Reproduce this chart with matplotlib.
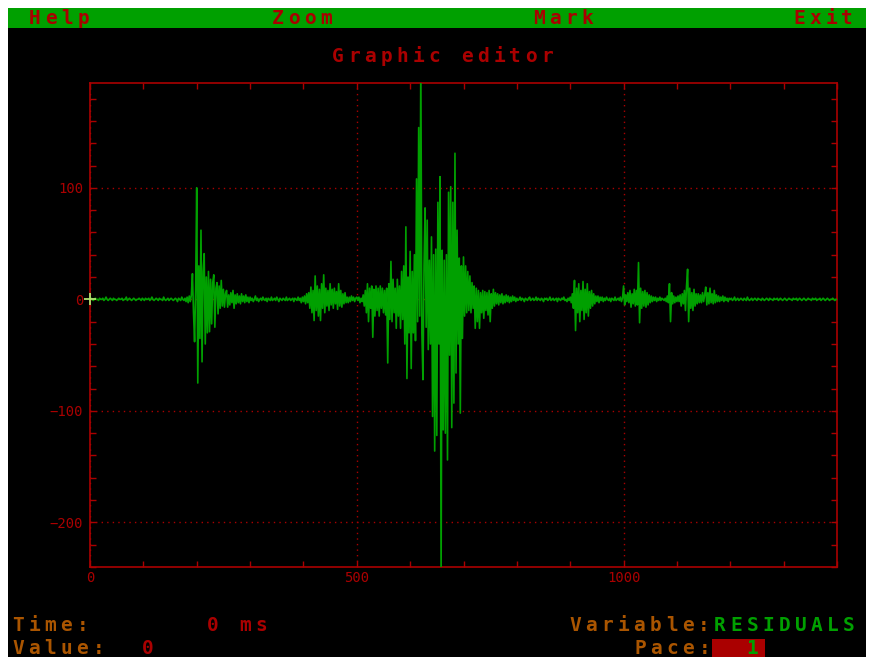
import matplotlib
matplotlib.use("Agg")
import matplotlib.pyplot as plt
import numpy as np
from matplotlib.patches import Rectangle
from matplotlib.ticker import MultipleLocator

# residual trace, one sample every 2 ms (0 .. 1400 ms), 10 samples per row
sample_ms = 2
residuals = [
    0, 1, 0, -1, 0, 1, 0, 0, -1, 1,
    0, 0, 1, -1, 0, 2, 0, -1, 0, 1,
    0, -1, 1, 0, 0, -1, 0, 1, 0, 0,
    1, -1, 0, 0, 2, -1, 0, 1, 0, -1,
    0, 1, 0, -1, 0, 0, 1, 0, -1, 1,
    0, -1, 1, 0, 0, 1, -1, 0, 2, 0,
    -1, 0, 1, 0, -1, 1, 0, 0, -1, 2,
    0, -1, 0, 1, -1, 0, 1, 0, -1, 0,
    1, 0, -2, 1, 0, -1, 2, 0, -1, 1,
    -2, 2, -3, 3, -2, 4, 23, -12, -38, 10,
    100, -75, 30, -35, 62, -56, 25, 41, -40, 20,
    -30, 25, -29, 18, -22, 15, 22, -25, 10, 15,
    -13, 12, -8, 17, -6, 9, -7, 5, 8, -7,
    4, -5, 6, -3, 8, -8, 4, -4, 5, -3,
    3, -4, 5, -2, 3, -3, 4, -2, 2, -3,
    2, -1, 1, -2, 0, 3, -1, 1, -2, 0,
    1, -1, 2, 0, -1, 1, -2, 1, 0, -1,
    2, -1, 0, 1, -1, 2, 0, -2, 1, 0,
    -1, 1, 0, -1, 2, -1, 0, 1, -1, 0,
    1, -2, 1, 0, -1, 2, -1, 1, -3, 2,
    -2, 3, -4, 5, -3, 6, -8, 11, -12, 8,
    -19, 21, -10, 12, -15, 9, -19, 14, -8, 22,
    -12, 10, -6, 8, -10, 14, -5, 9, -8, 10,
    -4, 7, -9, 14, -6, 8, -7, 5, -4, 6,
    -3, 2, -3, 2, -2, 3, -1, 2, -2, 1,
    2, -1, 2, -3, 1, -2, 4, -6, 8, -12,
    14, -20, 10, -8, 12, -34, 9, -15, 12, -10,
    10, -15, 12, -8, 10, -12, 8, -14, 10, -57,
    14, -18, 34, -20, 18, -12, 10, -26, 18, -15,
    12, -26, 25, -18, 30, -40, 65, -71, 20, -30,
    43, -62, 25, -30, 40, -37, 108, -20, 154, -15,
    215, -30, -72, 30, 82, -25, 71, -45, 35, -40,
    56, -105, 40, -136, 45, -122, 87, -40, 110, -250,
    44, -117, 35, -120, 40, -144, 96, -50, 101, -115,
    87, -93, 131, -66, 62, -40, 37, -102, 30, -35,
    38, -15, 30, -12, 25, -10, 21, -12, 15, -8,
    12, -26, 10, -20, 8, -26, 6, -12, 8, -17,
    7, -10, 6, -14, 8, -20, 5, -8, 9, -6,
    6, -4, 5, -5, 4, -3, 5, -4, 3, -3,
    4, -2, 3, -3, 2, -2, 3, -1, 2, -2,
    1, -1, 0, 2, -1, 1, 0, -2, 1, 0,
    -1, 1, 2, -1, 0, 1, -1, 0, 2, -1,
    1, 0, -1, 1, 0, -2, 1, 0, 1, -1,
    0, 2, -1, 0, 1, -1, 0, 1, -2, 1,
    0, -1, 1, 0, 2, -1, 0, -2, 1, -1,
    2, -3, 5, -8, 17, -28, 10, -12, 14, -20,
    8, -10, 16, -18, 9, -12, 14, -15, 7, -8,
    8, -6, 5, -4, 3, -2, 3, -3, 2, -1,
    2, -2, 1, -1, 2, 0, -1, 1, -2, 1,
    0, -1, 2, -1, 0, 1, -1, 2, -2, 1,
    12, -5, 4, -2, 6, -3, 8, -7, 5, -4,
    9, -6, 8, -5, 33, -21, 10, -8, 7, -6,
    8, -7, 6, -5, 4, -3, 3, -2, 2, -1,
    2, -2, 1, -1, 2, -1, 1, 0, -1, 1,
    -2, 3, -3, 14, -20, 6, -4, 3, -3, 2,
    -2, 3, -2, 4, -6, 5, -4, 8, -10, 12,
    27, -20, 10, -8, 6, -10, 9, -6, 5, -4,
    5, -3, 4, -3, 6, -2, 4, 11, -5, 6,
    -4, 10, -3, 5, -4, 8, -3, 4, -2, 3,
    -2, 2, -1, 3, -2, 2, -1, 1, -2, 1,
    0, 1, -1, 0, 2, -1, 0, 1, -1, 0,
    1, 0, -1, 1, 0, -1, 2, 0, -1, 0,
    1, -1, 0, 1, 0, -1, 1, 0, 0, -1,
    1, 0, -1, 0, 1, 0, -1, 1, 0, 0,
    -1, 1, 0, 0, 1, -1, 0, 1, 0, -1,
    0, 1, 0, -1, 0, 1, 0, 0, -1, 1,
    0, 0, 1, -1, 0, 1, 0, -1, 0, 1,
    0, -1, 0, 1, 0, 0, -1, 1, 0, 0,
    1, -1, 0, 0, 1, -1, 0, 1, 0, -1,
    0, 1, 0, -1, 0, 0, 1, 0, -1, 0,
    0,
]
time_ms = np.arange(len(residuals)) * sample_ms

menu_items = ["Help", "Zoom", "Mark", "Exit"]
menu_x = [27, 270, 531, 791]
title = "Graphic editor"
cursor_time = 0
cursor_value = 0
variable_name = "RESIDUALS"
pace = 1

RED = "#aa0000"
GREEN = "#00a000"
BROWN = "#aa5500"
W, H = 869, 657
CELL = 16.1

fig = plt.figure(figsize=(W / 100, H / 100), dpi=100, facecolor="white")


def fx(x):
    return x / W


def fy(y):
    return 1 - y / H


def dos_text(x, y, s, color, size=14):
    # draw char by char on a fixed cell grid, like a text mode screen
    for i, ch in enumerate(s):
        if ch == " ":
            continue
        fig.text(fx(x + i * CELL + CELL / 2), fy(y), ch, ha="center", va="baseline",
                 family="DejaVu Sans Mono", fontsize=size, fontweight="bold",
                 color=color, zorder=5)


def screen_box(x0, y0, x1, y1, color):
    fig.add_artist(Rectangle((fx(x0), fy(y1)), fx(x1 - x0), fy(y0) - fy(y1),
                             transform=fig.transFigure, facecolor=color,
                             edgecolor="none", zorder=-10))


# screen background and menu bar
screen_box(8, 8, 866, 657, "black")
screen_box(8, 8, 866, 28, GREEN)
for name, x in zip(menu_items, menu_x):
    dos_text(x, 24, name, RED)
dos_text(330, 62, title, RED)

ax = fig.add_axes([fx(90), fy(567), fx(837 - 90), fy(83) - fy(567)])
ax.set_zorder(2)
ax.set_facecolor("black")
ax.plot(time_ms, residuals, color=GREEN, lw=1.2, zorder=3)
ax.plot([cursor_time], [cursor_value], marker="+", ms=9, mew=1.3, color="#b0e070",
        zorder=4, clip_on=False)

ax.set_xlim(0, 1400)
ax.set_ylim(-240, 194)
ax.xaxis.set_major_locator(MultipleLocator(500))
ax.xaxis.set_minor_locator(MultipleLocator(100))
ax.yaxis.set_major_locator(MultipleLocator(100))
ax.yaxis.set_minor_locator(MultipleLocator(20))
ax.tick_params(which="both", direction="in", color=RED, top=True, right=True,
               length=4, width=1)
ax.tick_params(axis="x", which="major", labelcolor=RED, labelsize=10, pad=3)
ax.tick_params(axis="y", which="major", labelcolor=RED, labelsize=10, pad=5)
for lab in ax.get_xticklabels() + ax.get_yticklabels():
    lab.set_family("DejaVu Sans Mono")
for sp in ax.spines.values():
    sp.set_color(RED)
    sp.set_linewidth(1.2)
ax.grid(True, which="major", color=RED, lw=1.0, linestyle=(0, (1, 3)), zorder=1)

# status line
dos_text(10, 631, "Time:", BROWN)
dos_text(205, 631, f"{cursor_time} ms", RED)
dos_text(10, 654, "Value:", BROWN)
dos_text(140, 654, f"{cursor_value}", RED)
dos_text(567, 631, "Variable:", BROWN)
dos_text(567 + 9 * CELL, 631, variable_name, GREEN)
dos_text(632, 654, "Pace:", BROWN)
screen_box(712, 639, 765, 657, RED)
dos_text(744, 654, f"{pace}", GREEN)

fig.savefig("out.png", dpi=100, facecolor=fig.get_facecolor())
